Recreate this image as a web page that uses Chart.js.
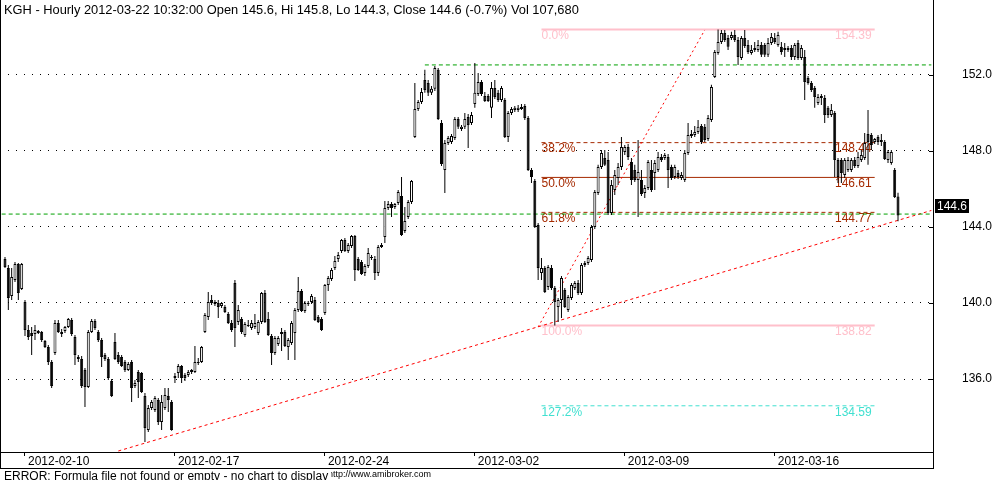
<!DOCTYPE html>
<html>
<head>
<meta charset="utf-8">
<title>KGH - Hourly</title>
<script src="https://cdn.jsdelivr.net/npm/chart.js@4.4.1/dist/chart.umd.min.js"></script>
<style>
  body { margin: 0; background: #fff; }
  #wrap { position: relative; width: 994px; height: 480px; overflow: hidden; font-family: "Liberation Sans", Arial, sans-serif; }
  #c { position: absolute; left: 0; top: 0; }
  .txt { position: absolute; white-space: nowrap; color: #000; line-height: 12px; }
  #title { left: 4px; top: 3px; font-size: 12.85px; line-height: 13px; z-index: 2; }
  #err { left: 4px; top: 470px; font-size: 12px; background: #fff; padding-right: 3px; z-index: 2; }
  #url { left: 328px; top: 470px; font-size: 9px; line-height: 9px; z-index: 1; }
</style>
</head>
<body>
<div id="wrap">
  <canvas id="c" width="994" height="480"></canvas>
  <div class="txt" id="title">KGH - Hourly 2012-03-22 10:32:00 Open 145.6, Hi 145.8, Lo 144.3, Close 144.6 (-0.7%) Vol 107,680</div>
  <div class="txt" id="err">ERROR: Formula file not found or empty - no chart to display</div>
  <div class="txt" id="url">http://www.amibroker.com</div>
</div>
<script>
// week ticks on the time axis (bar index where each week starts)
var weekLabels = ['2012-02-10', '2012-02-17', '2012-02-24', '2012-03-02', '2012-03-09', '2012-03-16'];
var weekBars = [7, 52, 97, 142, 187, 232];
var yTicks = [136, 140, 144, 148, 152];

// hourly candles
var opens = [142.32,141.84,140.37,141.21,142.05,140.74,140.05,138.58,138.42,138.37,
138.53,138.47,138.00,137.68,136.89,137.37,138.95,138.37,138.53,138.74,
139.10,138.21,137.16,137.05,136.47,135.58,138.47,139.05,138.47,138.05,
137.26,137.05,135.89,137.95,137.26,137.16,136.89,136.47,136.89,135.63,
136.37,136.32,135.11,133.32,134.47,134.37,134.89,133.74,134.47,135.11,
134.79,136.05,136.32,136.68,136.21,136.21,136.37,136.37,136.84,136.89,
138.47,139.26,140.16,139.95,140.00,139.84,139.79,139.42,138.95,141.05,
139.00,139.16,138.32,138.84,138.68,138.74,138.42,139.00,140.53,139.16,
138.26,137.37,137.84,138.37,138.47,137.68,137.89,138.42,139.63,140.63,
139.58,139.95,140.05,140.16,139.26,139.16,139.48,140.95,141.26,141.84,
142.32,142.74,143.32,142.74,143.00,143.53,142.32,142.16,141.58,141.95,
142.37,142.32,141.58,142.95,143.48,145.00,145.21,145.05,145.26,145.63,
143.79,144.53,145.32,148.74,150.21,150.58,151.74,151.58,151.06,151.27,
152.27,149.48,147.00,148.42,148.48,148.69,149.69,149.16,149.27,149.79,
149.48,150.48,151.00,151.63,150.90,150.90,150.27,151.32,151.06,150.69,
150.69,148.74,150.00,150.16,150.16,150.32,150.37,149.74,147.00,146.42,
144.11,141.58,141.84,140.84,141.84,140.79,139.79,140.16,140.68,139.63,
140.26,140.79,141.05,140.53,142.00,142.11,142.26,144.00,145.79,147.16,
147.63,147.53,144.74,145.95,146.58,147.16,147.95,148.21,147.42,147.00,
146.48,146.48,145.79,146.05,147.00,146.84,147.00,147.69,147.63,147.69,
147.16,146.63,146.84,146.58,146.48,147.90,148.79,148.84,149.00,149.32,
149.27,148.63,149.63,151.90,153.16,153.74,154.21,153.95,153.95,154.11,
153.84,152.90,153.95,153.58,153.16,153.32,153.32,153.58,153.58,153.06,
153.69,153.95,153.58,153.48,153.32,153.42,153.42,152.95,153.69,152.90,
152.95,151.84,151.58,151.32,150.53,150.90,150.79,150.27,149.90,150.00,
147.53,147.53,146.74,147.00,147.00,147.53,147.21,147.53,147.63,148.90,
148.84,148.48,148.74,148.48,148.48,147.53,147.37,147.00,145.60];

var highs = [142.42,142.00,141.84,142.16,142.11,142.11,140.16,138.84,138.74,138.84,
138.58,138.53,138.05,137.79,137.00,139.10,139.10,138.63,138.79,139.21,
139.21,138.32,137.26,137.21,136.58,138.58,139.16,139.16,138.58,138.16,
137.37,137.16,136.00,138.42,137.42,137.26,137.00,136.89,137.00,135.95,
136.47,136.37,135.26,134.63,134.89,135.11,135.00,135.16,135.53,135.53,
134.89,136.32,136.79,136.74,136.32,136.47,136.53,137.74,137.11,137.74,
139.48,140.58,140.42,140.16,140.16,140.05,139.90,139.53,139.10,141.21,
139.90,139.26,139.00,139.10,139.10,139.42,139.10,140.58,140.68,139.53,
138.37,138.26,138.26,138.68,138.58,138.16,139.05,139.74,141.37,140.74,
140.11,140.11,140.47,140.32,139.37,139.26,141.00,141.42,141.84,142.48,
142.69,143.37,143.42,143.16,143.58,143.58,142.42,142.26,142.05,142.90,
142.53,142.48,143.05,143.16,145.37,145.37,145.32,145.26,145.95,146.63,
145.05,145.42,146.48,151.58,150.69,151.32,152.27,151.74,151.42,152.47,
152.37,149.63,148.58,148.79,148.90,149.79,149.79,149.37,150.00,149.95,
150.05,152.63,152.11,151.74,151.11,151.00,151.63,151.74,151.21,151.42,
150.79,150.11,150.32,150.37,150.42,150.48,150.48,149.84,147.11,146.53,
144.21,142.37,141.95,142.00,142.00,140.90,140.26,141.42,140.79,140.42,
141.05,141.16,141.21,142.11,142.21,142.48,144.11,145.95,147.27,148.05,
148.05,147.95,146.48,147.00,147.37,148.74,148.32,148.37,147.63,147.27,
148.58,147.00,146.21,147.53,147.53,147.53,147.95,147.84,147.90,147.84,
147.27,147.27,147.00,146.90,148.05,149.48,149.11,149.32,149.63,149.42,
149.42,149.90,151.48,153.32,154.39,154.37,154.37,154.11,154.27,154.37,
154.00,154.05,154.37,153.84,153.58,153.74,153.84,153.74,153.69,153.95,
154.21,154.21,154.27,153.74,153.69,153.53,153.58,153.69,153.84,153.58,
153.32,151.95,151.69,151.42,151.00,151.00,150.95,150.37,150.48,150.11,
147.63,147.63,147.63,147.69,147.63,147.69,147.95,148.05,148.95,150.16,
148.95,148.69,148.84,148.90,148.58,148.05,148.05,147.11,145.80];

var lows = [141.84,139.63,140.16,141.11,140.16,140.68,138.26,138.05,137.26,138.05,
138.37,137.95,137.63,136.74,135.53,137.26,138.42,138.21,138.42,138.68,
138.26,136.74,136.89,135.53,134.53,135.53,138.42,138.58,137.95,136.63,
136.95,135.95,135.05,137.00,136.79,136.63,136.37,136.42,134.79,135.53,
135.00,135.26,132.68,133.21,134.37,134.26,133.58,133.32,134.37,134.26,
133.27,135.79,136.05,135.79,135.89,136.11,136.26,136.32,136.74,136.84,
138.42,139.10,139.90,139.84,139.21,139.74,139.48,138.90,138.47,137.68,
138.84,138.37,138.21,138.74,138.58,138.63,138.32,138.90,138.95,138.26,
136.74,137.26,137.74,137.47,137.68,137.00,137.79,137.00,139.53,139.53,
139.48,139.84,139.95,139.05,138.95,138.53,139.37,140.63,141.16,141.74,
142.16,142.63,142.69,142.63,142.90,141.16,141.69,141.47,141.42,141.84,
142.26,141.21,141.42,142.90,143.16,144.90,144.53,144.95,145.16,143.53,
143.69,144.42,145.21,148.69,150.11,150.48,151.06,150.90,150.95,151.16,
149.63,147.21,145.79,148.32,148.37,148.58,149.16,149.05,149.16,148.16,
149.37,150.27,150.90,150.90,150.58,150.58,149.74,150.74,150.58,150.58,
148.69,148.48,149.90,150.05,150.05,150.16,149.63,146.95,146.32,143.95,
141.21,141.21,140.53,140.68,140.68,138.82,139.00,139.21,139.74,139.53,
140.16,140.68,140.42,140.42,141.90,142.00,142.16,143.90,145.68,147.05,
147.21,144.63,144.63,145.68,146.21,147.00,147.79,147.53,146.21,146.37,
144.53,145.63,145.53,145.95,145.84,145.95,146.90,147.42,147.53,146.05,
146.48,146.53,146.53,146.48,146.37,147.79,148.69,148.74,148.90,148.37,
148.48,148.53,149.53,151.84,153.06,153.63,153.74,153.32,153.84,153.74,
152.53,152.79,153.42,153.11,153.06,153.21,153.21,152.95,152.95,152.95,
153.58,153.63,153.48,153.06,152.95,153.21,152.79,152.79,152.79,152.79,
150.69,151.48,151.11,150.27,150.42,150.42,149.48,149.74,149.79,146.63,
146.32,146.32,146.58,146.90,146.90,147.11,147.11,147.42,147.53,147.27,
148.05,148.37,148.32,148.26,147.53,147.37,147.27,145.53,144.30];

var closes = [141.90,140.26,141.37,142.05,140.53,142.05,138.58,138.21,138.26,138.58,
138.42,138.05,137.68,136.89,135.63,138.95,138.47,138.47,138.74,139.16,
138.37,137.26,137.05,135.63,135.58,138.47,139.05,138.68,138.05,137.16,
137.05,136.05,135.11,137.05,136.89,136.68,136.47,136.79,135.53,135.79,
135.84,135.32,133.42,134.47,134.79,135.00,133.74,134.79,135.16,134.89,
133.32,136.16,136.68,136.05,136.05,136.37,136.47,136.89,136.89,137.68,
139.37,140.05,140.00,140.05,139.79,140.00,139.53,138.95,138.58,138.68,
139.63,138.47,138.90,138.79,138.95,138.95,139.00,140.53,139.00,138.32,
137.37,138.16,138.16,138.47,137.74,138.05,138.95,139.63,140.63,139.58,
140.00,140.00,140.37,139.10,139.00,138.58,140.95,141.32,141.74,142.21,
142.53,143.32,142.74,143.05,143.53,141.74,141.74,141.53,141.95,142.63,
142.42,141.58,142.95,143.05,145.00,145.21,145.00,145.21,145.84,143.58,
144.32,145.32,146.42,150.21,150.58,151.11,151.21,151.06,151.27,152.37,
149.69,147.32,148.42,148.69,148.79,149.69,149.27,149.27,149.69,149.37,
149.90,151.06,151.63,151.00,150.63,150.63,151.32,150.84,150.69,151.32,
148.74,150.00,150.21,150.27,150.27,150.21,149.74,147.00,146.63,144.00,
141.84,141.84,140.58,141.90,140.79,140.05,140.16,141.32,139.79,140.32,
140.95,141.05,140.53,142.00,142.11,142.37,144.00,145.84,147.16,147.90,
147.27,144.74,146.21,146.74,147.16,148.21,148.21,147.69,146.48,146.48,
146.90,145.74,146.05,147.42,145.95,147.37,147.69,147.53,147.79,147.00,
146.58,147.16,146.63,146.74,147.90,148.84,148.90,149.00,149.27,148.48,
148.58,149.74,151.37,153.21,153.74,154.21,153.84,153.48,154.11,153.84,
152.95,153.95,153.53,153.21,153.32,153.42,153.58,153.06,153.06,153.69,
154.00,153.74,154.11,153.21,153.42,153.32,152.95,153.58,152.90,153.42,
151.63,151.58,151.21,150.84,150.84,150.79,149.90,149.90,150.16,147.53,
146.63,146.84,147.53,147.53,147.53,147.21,147.69,147.79,148.42,148.48,
148.32,148.63,148.48,148.58,147.58,147.95,147.95,145.58,144.60];

// fibonacci retracement (from low 138.82 to high 154.39)
var fibPercents = ['0.0%', '38.2%', '50.0%', '61.8%', '100.0%', '127.2%'];
var fibLevels = [154.39, 148.44, 146.61, 144.77, 138.82, 134.59];
var fibBars = [162, 262];

// study lines: [bar, price] end points
var trendLong = [[35, 132.21], [279, 144.87]];
var trendSteep = [[161, 138.74], [211, 154.37]];
var levelHigh = [[127, 152.53], [279, 152.53]];
var levelLast = [[0, 144.68], [279, 144.68]];
var lastClose = 144.6;

var FONT = '"Liberation Sans", Arial, sans-serif';
var N = 280; // bar slots on the time axis, incl. empty ones at both ends
var fibStyle = [
  { color: '#ffc0cb', width: 2, dash: [] },
  { color: '#a52a00', width: 1, dash: [4, 3] },
  { color: '#a52a00', width: 1, dash: [] },
  { color: '#a52a00', width: 1, dash: [4, 3] },
  { color: '#ffc0cb', width: 2, dash: [] },
  { color: '#40e0d0', width: 1, dash: [4, 3] }
];

var labels = [];
for (var i = 0; i < N; i++) labels.push(String(i));

function slots(values) {
  var a = new Array(N).fill(null);
  for (var k = 0; k < values.length; k++) a[k + 1] = values[k];
  return a;
}
function seg(pts) {
  var a = new Array(N).fill(null);
  pts.forEach(function(p) { a[p[0]] = p[1]; });
  return a;
}
function lineSet(pts, color, width, dash, order) {
  return {
    type: 'line', data: seg(pts), borderColor: color, borderWidth: width,
    borderDash: dash, pointRadius: 0, spanGaps: true, fill: false, order: order
  };
}

var bodies = slots(opens.map(function(o, k) { return [o, closes[k]]; }));
var wicks = slots(lows.map(function(l, k) { return [l, highs[k]]; }));
var bodyColors = slots(opens.map(function(o, k) { return closes[k] < o ? '#000' : '#fff'; }));

var datasets = [
  { type: 'bar', data: bodies, backgroundColor: bodyColors, borderColor: '#000', borderWidth: 1,
    borderSkipped: false, barThickness: 3, grouped: false, inflateAmount: 0, order: 0 },
  { type: 'bar', data: wicks, backgroundColor: '#000', borderWidth: 0,
    barThickness: 1, grouped: false, inflateAmount: 0, order: 1 },
  lineSet(levelHigh, '#00a000', 1, [4, 3], 2),
  lineSet(levelLast, '#00a000', 1, [4, 3], 2),
  lineSet(trendLong, '#ff0000', 1, [3, 3], 2),
  lineSet(trendSteep, '#ff0000', 1, [2, 3], 2)
];
fibLevels.forEach(function(v, i) {
  var s = fibStyle[i];
  datasets.push(lineSet([[fibBars[0], v], [fibBars[1], v]], s.color, s.width, s.dash, 3));
});

// labels, frame and last-price marker
var decor = {
  id: 'decor',
  beforeDatasetsDraw: function(chart) {
    var ctx = chart.ctx, x = chart.scales.x, y = chart.scales.y;
    var x0 = x.getPixelForValue(fibBars[0]);
    var x1 = x.getPixelForValue(fibBars[1]);
    ctx.save();
    ctx.font = '12px ' + FONT;
    ctx.textBaseline = 'top';
    fibLevels.forEach(function(v, i) {
      var py = y.getPixelForValue(v);
      ctx.fillStyle = fibStyle[i].color;
      ctx.textAlign = 'left';
      ctx.fillText(fibPercents[i], x0, py + 0.5);
      ctx.textAlign = 'right';
      ctx.fillText(v.toFixed(2), x1 - 3, py + 0.5);
    });
    ctx.restore();
  },
  afterDraw: function(chart) {
    var ctx = chart.ctx, a = chart.chartArea, y = chart.scales.y;
    ctx.save();
    ctx.strokeStyle = '#000';
    ctx.lineWidth = 1;
    ctx.beginPath();
    ctx.moveTo(0.5, 0); ctx.lineTo(0.5, 469);
    ctx.moveTo(0, 468.5); ctx.lineTo(a.right + 1, 468.5);
    ctx.moveTo(a.right + 0.5, a.bottom); ctx.lineTo(a.right + 0.5, 469);
    yTicks.forEach(function(v) {
      var py = Math.round(y.getPixelForValue(v)) + 0.5;
      ctx.moveTo(a.right - 4, py); ctx.lineTo(a.right, py);
    });
    ctx.stroke();
    var pc = y.getPixelForValue(lastClose);
    ctx.fillStyle = '#000';
    ctx.fillRect(a.right + 2, Math.round(pc - 17), 34, 14);
    ctx.fillStyle = '#fff';
    ctx.font = '12px ' + FONT;
    ctx.textBaseline = 'middle';
    ctx.textAlign = 'left';
    ctx.fillText(lastClose.toFixed(1), a.right + 4, Math.round(pc - 17) + 7.5);
    ctx.restore();
  }
};

Chart.defaults.font.family = FONT;
Chart.defaults.font.size = 12;
Chart.defaults.color = '#000';

new Chart(document.getElementById('c'), {
  type: 'bar',
  data: { labels: labels, datasets: datasets },
  options: {
    responsive: false,
    animation: false,
    events: [],
    layout: { padding: 0, autoPadding: false },
    plugins: { legend: { display: false }, tooltip: { enabled: false } },
    scales: {
      x: {
        type: 'category',
        offset: true,
        afterBuildTicks: function(s) { s.ticks = weekBars.map(function(b) { return { value: b }; }); },
        grid: { drawOnChartArea: false, drawTicks: true, tickLength: 4, tickColor: '#000', offset: false },
        border: { display: true, color: '#000', width: 1 },
        ticks: {
          autoSkip: false, maxRotation: 0, minRotation: 0, align: 'start', labelOffset: 3, padding: -2,
          callback: function(v, i) { return weekLabels[i]; }
        },
        afterFit: function(s) { s.height = 28; s.paddingLeft = 0; s.paddingRight = 0; }
      },
      y: {
        position: 'right',
        min: 132.158,
        max: 155.947,
        afterBuildTicks: function(s) { s.ticks = yTicks.map(function(v) { return { value: v }; }); },
        grid: { color: '#000', lineWidth: 1, drawTicks: true, tickLength: 27, tickColor: 'rgba(0,0,0,0)' },
        border: { display: true, color: '#000', width: 1, dash: [1, 7] },
        ticks: { padding: 2, callback: function(v) { return v.toFixed(1); } },
        afterFit: function(s) { s.width = 61; s.paddingTop = 0; s.paddingBottom = 0; }
      }
    }
  },
  plugins: [decor]
});
</script>
</body>
</html>
